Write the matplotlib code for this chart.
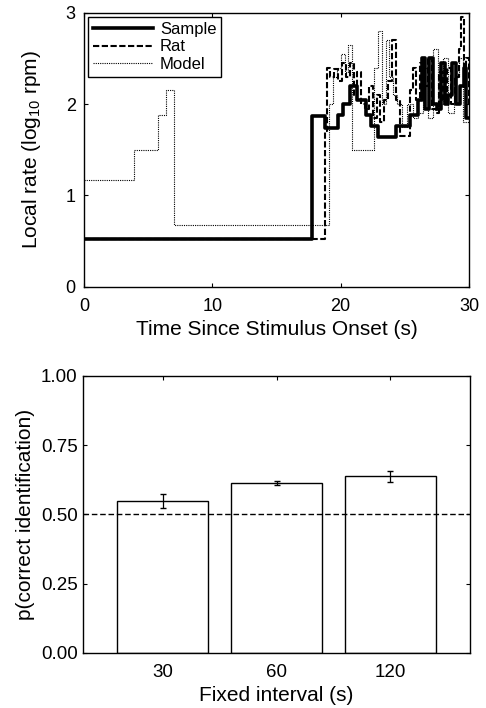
import matplotlib

matplotlib.use("Agg")
import matplotlib.pyplot as plt

# top panel: step traces of local response rate (log10 rpm)
SAMPLE_T = [0, 17.8, 18.8, 19.8, 20.2, 20.7, 21.3, 22.0, 22.4, 22.9, 24.3, 25.4, 26.0,
            26.3, 26.6, 26.9, 27.2, 27.5, 27.8, 28.1, 28.4, 28.7, 29.0, 29.3, 29.6, 29.8, 30]
SAMPLE_V = [0.52, 1.87, 1.74, 1.88, 2.0, 2.2, 2.05, 1.88, 1.76, 1.64, 1.76, 1.88, 2.05,
            2.5, 1.95, 2.5, 2.0, 1.95, 2.45, 2.0, 2.1, 2.45, 2.0, 2.2, 2.4, 1.85, 1.85]

RAT_T = [0, 18.75, 18.95, 19.2, 19.5, 19.8, 20.1, 20.4, 20.7, 21.0, 21.3, 21.6, 21.9, 22.2,
         22.5, 22.8, 23.1, 23.4, 23.7, 24.0, 24.3, 24.6, 25.0, 25.4, 25.6, 25.9, 26.2, 26.5,
         26.8, 27.1, 27.4, 27.7, 28.0, 28.3, 28.6, 28.9, 29.2, 29.4, 29.6, 29.8, 30]
RAT_V = [0.52, 1.70, 2.40, 2.30, 2.38, 2.25, 2.45, 2.30, 2.45, 2.10, 2.35, 2.00, 1.95, 2.20,
         1.85, 2.10, 1.80, 2.05, 2.25, 2.70, 2.05, 1.65, 1.65, 2.15, 2.40, 2.05, 2.45, 2.20,
         2.50, 1.95, 1.90, 2.35, 2.05, 2.40, 2.00, 2.30, 2.60, 2.95, 2.30, 2.50, 2.00]

MODEL_T = [0, 3.9, 5.8, 6.4, 7.0, 19.1, 19.4, 19.7, 20.0, 20.3, 20.6, 20.9, 22.6, 22.9,
           23.2, 23.5, 23.8, 24.1, 24.4, 24.8, 25.2, 25.6, 26.0, 26.4, 26.8, 27.2, 27.6,
           28.0, 28.4, 28.8, 29.2, 29.5, 30]
MODEL_V = [1.17, 1.50, 1.88, 2.15, 0.68, 2.00, 2.30, 2.40, 2.55, 2.35, 2.65, 1.50, 2.40, 2.80,
           2.00, 2.70, 2.30, 2.10, 2.00, 1.75, 2.00, 1.85, 1.90, 2.40, 1.85, 2.60, 2.00,
           2.50, 1.90, 2.30, 2.50, 1.80, 1.80]

# bottom panel: identification accuracy per fixed interval
INTERVALS = ["30", "60", "120"]
P_CORRECT = [0.549, 0.614, 0.637]
P_ERR = [0.025, 0.008, 0.020]
CHANCE = 0.5

plt.rcParams.update({
    "font.family": ["Liberation Sans", "DejaVu Sans"],
    "font.size": 12,
    "axes.linewidth": 1.0,
    "xtick.direction": "in",
    "ytick.direction": "in",
    "xtick.top": True,
    "ytick.right": True,
})

fig = plt.figure(figsize=(4.86, 7.08), dpi=100)

ax = fig.add_axes([0.173, 0.595, 0.792, 0.387])
ax.plot(SAMPLE_T, SAMPLE_V, drawstyle="steps-post", color="black", lw=2.6, label="Sample")
ax.plot(RAT_T, RAT_V, drawstyle="steps-post", color="black", lw=1.5,
        ls=(0, (3, 1.2)), label="Rat")
ax.plot(MODEL_T, MODEL_V, drawstyle="steps-post", color="black", lw=0.8,
        ls=(0, (1, 1)), label="Model")
ax.set_xlim(0, 30)
ax.set_ylim(0, 3)
ax.set_xticks([0, 10, 20, 30])
ax.set_yticks([0, 1, 2, 3])
ax.tick_params(length=3, labelsize=13)
ax.tick_params(axis="x", pad=8)
ax.tick_params(axis="y", pad=6)
ax.set_xlabel("Time Since Stimulus Onset (s)", fontsize=15, labelpad=4)
ax.set_ylabel(r"Local rate (log$_{\mathregular{10}}$ rpm)", fontsize=15, labelpad=16)
leg = ax.legend(loc="upper left", fontsize=12, fancybox=False, framealpha=1,
                edgecolor="black", handlelength=3.6, borderaxespad=0.25,
                labelspacing=0.15, handletextpad=0.4, borderpad=0.3)
leg.get_frame().set_linewidth(1.0)

bx = fig.add_axes([0.171, 0.078, 0.796, 0.391])
xs = [1, 2, 3]
bx.bar(xs, P_CORRECT, width=0.8, color="white", edgecolor="black", lw=1.0, zorder=2)
bx.errorbar(xs, P_CORRECT, yerr=P_ERR, fmt="none", ecolor="black", capsize=2.5,
            lw=0.9, zorder=3)
bx.axhline(CHANCE, color="black", ls=(0, (4, 2)), lw=1.0, zorder=4)
bx.set_xlim(0.3, 3.7)
bx.set_ylim(0, 1)
bx.set_xticks(xs, INTERVALS)
bx.set_yticks([0, 0.25, 0.5, 0.75, 1.0], ["0.00", "0.25", "0.50", "0.75", "1.00"])
bx.tick_params(length=3, labelsize=13.5)
bx.tick_params(axis="x", pad=8)
bx.tick_params(axis="y", pad=4)
bx.set_xlabel("Fixed interval (s)", fontsize=15, labelpad=4)
bx.set_ylabel("p(correct identification)", fontsize=15, labelpad=4)

fig.savefig("out.png", dpi=100)
